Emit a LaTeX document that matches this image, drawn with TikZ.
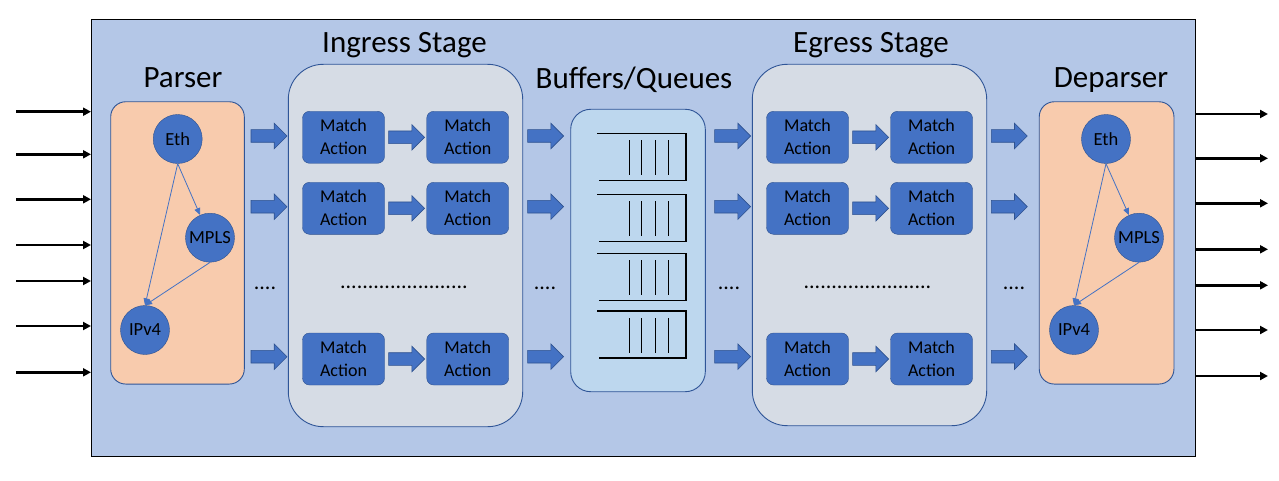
\documentclass[tikz,border=0pt]{standalone}
\usepackage{fontspec}
\setmainfont{Carlito}
\usetikzlibrary{arrows.meta,shapes.arrows}
\definecolor{chipfill}{HTML}{B4C7E7}
\definecolor{stagefill}{HTML}{D6DCE5}
\definecolor{parsefill}{HTML}{F8CBAD}
\definecolor{buffill}{HTML}{BDD7EE}
\definecolor{mablue}{HTML}{4472C4}
\definecolor{maedge}{HTML}{2F528F}
\definecolor{stageedge}{HTML}{2F5597}
\tikzset{
  stage/.style={draw=stageedge,line width=0.9pt,rounded corners=#1,inner sep=0pt},
  title/.style={font=\fontsize{31}{36}\selectfont,anchor=base},
  mabox/.style={draw=maedge,fill=mablue,rounded corners=7pt,minimum width=82pt,
    minimum height=52pt,inner sep=0pt,align=center,font=\fontsize{18}{23}\selectfont},
  hdr/.style={circle,draw=maedge,fill=mablue,minimum size=49pt,inner sep=0pt,
    font=\fontsize{18.5}{20}\selectfont},
  hdrarrow/.style={mablue,line width=0.8pt,-{Triangle[length=7pt,width=6pt]}},
  fat/.style={single arrow,draw=maedge,fill=mablue,line width=0.6pt,inner sep=6pt,
    single arrow head extend=6.5pt,minimum height=36pt,anchor=tail},
  wire/.style={line width=2.8pt,-{Triangle[length=8pt,width=8pt]}},
  qline/.style={line width=1.2pt},
  dots/.style={font=\fontsize{22}{24}\selectfont,anchor=base}
}
\begin{document}
\begin{tikzpicture}[x=1pt,y=-1pt]
\useasboundingbox (0,0) rectangle (1279,481);
% 全体
\node[draw,fill=chipfill,line width=0.8pt,minimum width=1104pt,minimum height=437pt,
  inner sep=0pt,anchor=north west] (chip) at (91,19) {};
% 入出力
\foreach \y [count=\i] in {111.7,154.3,199.3,245,281,326,372.3}{
  \coordinate (in\i) at (16,\y);
  \draw[wire] (in\i) -- (in\i -| chip.west);
}
\foreach \y [count=\i] in {114,158.3,203.3,249.3,285.3,330,376}{
  \coordinate (out\i) at (1268,\y);
  \draw[wire] (out\i -| chip.east) -- (out\i);
}
% ステージ
\node[stage=15pt,fill=parsefill,minimum width=133.6pt,minimum height=282.3pt] (parser) at (177.5,242.9) {};
\node[stage=35pt,fill=stagefill,minimum width=234.4pt,minimum height=362.4pt] (ingress) at (405.5,245.5) {};
\node[stage=20pt,fill=buffill,minimum width=134.6pt,minimum height=282.4pt] (buffers) at (638,250.5) {};
\node[stage=35pt,fill=stagefill,minimum width=234.4pt,minimum height=361.4pt] (egress) at (869.5,245) {};
\node[stage=15pt,fill=parsefill,minimum width=134.7pt,minimum height=282.3pt] (deparser) at (1106.6,242.9) {};
\node[title] (tparser) at (183,87.5) {Parser};
\node[title] (tingress) at (404.5,53) {Ingress Stage};
\node[title] (tbuffers) at (634,88.3) {Buffers/Queues};
\node[title] (tegress) at (871,52.5) {Egress Stage};
\node[title] (tdeparser) at (1111,87.5) {Deparser};
% パーサ
\node[hdr] (peth) at (177.7,139) {Eth};
\node[hdr] (pmpls) at (210,237.7) {MPLS};
\node[hdr] (pipv4) at (145,330) {IPv4};
\draw[hdrarrow] (peth.south) -- (pmpls);
\draw[hdrarrow] (peth.south) -- (pipv4.north);
\draw[hdrarrow] (pmpls.south) -- (pipv4.north);
\node[hdr] (deth) at (1106,139) {Eth};
\node[hdr] (dmpls) at (1139,237.7) {MPLS};
\node[hdr] (dipv4) at (1074,330) {IPv4};
\draw[hdrarrow] (deth.south) -- (dmpls);
\draw[hdrarrow] (deth.south) -- (dipv4.north);
\draw[hdrarrow] (dmpls.south) -- (dipv4.north);
% マッチアクション
\foreach \y [count=\r] in {137.3,208.3,359}{
  \node[mabox] (ima\r) at (343.5,\y) {Match\\Action};
  \node[mabox] (imb\r) at (467.7,\y) {Match\\Action};
  \node[fat] (ifa\r) at (388.3,\y) {};
  \node[mabox] (ema\r) at (807.5,\y) {Match\\Action};
  \node[mabox] (emb\r) at (931.5,\y) {Match\\Action};
  \node[fat] (efa\r) at (852.3,\y) {};
}
% ステージ間の矢印
\foreach \y [count=\r] in {136,206.7,356.7}{
  \node[fat] (pfa\r) at (250.7,\y) {};
  \node[fat] (bfa\r) at (527.3,\y) {};
  \node[fat] (qfa\r) at (714.3,\y) {};
  \node[fat] (dfa\r) at (991,\y) {};
}
% キュー
\foreach \t in {133.3,194.3,253.3,311}{
  \draw[qline] (597,\t) -- (686,\t) -- (686,\t+47) -- (599,\t+47);
  \foreach \x in {629.3,641.3,655.3,668.3}
    \draw[qline] (\x,\t+7) -- (\x,\t+42);
}
% 省略
\node[dots] (d1) at (265,289.5) {....};
\node[dots] (d2) at (404,288) {.......................};
\node[dots] (d3) at (545,289.5) {....};
\node[dots] (d4) at (729,289) {....};
\node[dots] (d5) at (867.5,288) {.......................};
\node[dots] (d6) at (1014,289) {....};
\end{tikzpicture}
\end{document}
